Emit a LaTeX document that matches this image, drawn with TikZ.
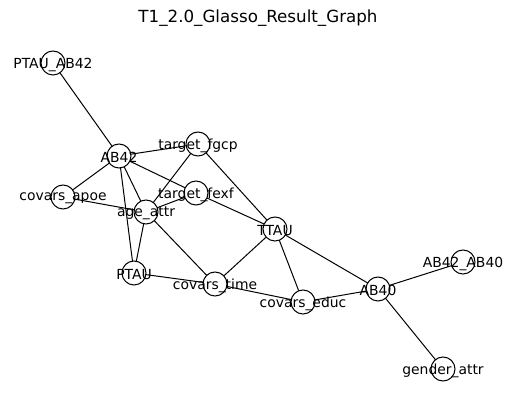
\documentclass[tikz,border=0pt]{standalone}
\usepackage{fontspec}
\setmainfont{DejaVu Sans}
\usepackage{tikz}
\pgfdeclarelayer{background}
\pgfsetlayers{background,main}
\tikzstyle{vertex}=[circle,draw=black,fill=white,line width=1pt,minimum size=24pt,inner sep=0pt]
\tikzstyle{vlabel}=[inner sep=0pt,yshift=-1.5pt,font=\fontsize{13.9}{16}\selectfont]
\tikzstyle{edge} = [draw,line width=1pt,-]

\begin{document}
\begin{tikzpicture}[x=1pt,y=-1pt]
    \useasboundingbox (0,0) rectangle (515,411);
    % Title
    \node[font=\fontsize{16.7}{19}\selectfont] (title) at (258,18) {T1\_2.0\_Glasso\_Result\_Graph};
    % First we draw the vertices
    \foreach \pos/\name in {{(53,63)/PTAU_AB42}, {(119,156)/AB42}, {(198,144)/target_fgcp},
        {(63,197)/covars_apoe}, {(196,193)/target_fexf}, {(146,212)/age_attr},
        {(275,229)/TTAU}, {(134,273)/PTAU}, {(215,284)/covars_time},
        {(303,302)/covars_educ}, {(378,289)/AB40}, {(463,262)/AB42_AB40},
        {(443,369)/gender_attr}}
        \node[vertex] (\name) at \pos {};
    % Then the labels on top
    \foreach \name/\lbl in {PTAU_AB42/PTAU\_AB42, AB42/AB42, target_fgcp/target\_fgcp,
        covars_apoe/covars\_apoe, target_fexf/target\_fexf, age_attr/age\_attr,
        TTAU/TTAU, PTAU/PTAU, covars_time/covars\_time, covars_educ/covars\_educ,
        AB40/AB40, AB42_AB40/AB42\_AB40, gender_attr/gender\_attr}
        \node[vlabel] (\name-l) at (\name) {\lbl};
    % Connect vertices with edges
    \begin{pgfonlayer}{background}
    \foreach \source/ \dest in {PTAU_AB42/AB42, AB42/target_fgcp, AB42/covars_apoe,
        AB42/target_fexf, AB42/age_attr, AB42/PTAU, covars_apoe/age_attr,
        target_fgcp/age_attr, target_fgcp/TTAU, target_fexf/age_attr, target_fexf/TTAU,
        age_attr/PTAU, age_attr/covars_time, PTAU/covars_time, covars_time/TTAU,
        covars_time/covars_educ, TTAU/covars_educ, TTAU/AB40, covars_educ/AB40,
        AB40/AB42_AB40, AB40/gender_attr}
        \path[edge] (\source.center) -- (\dest.center) ;
    \end{pgfonlayer}

\end{tikzpicture}
\end{document}
